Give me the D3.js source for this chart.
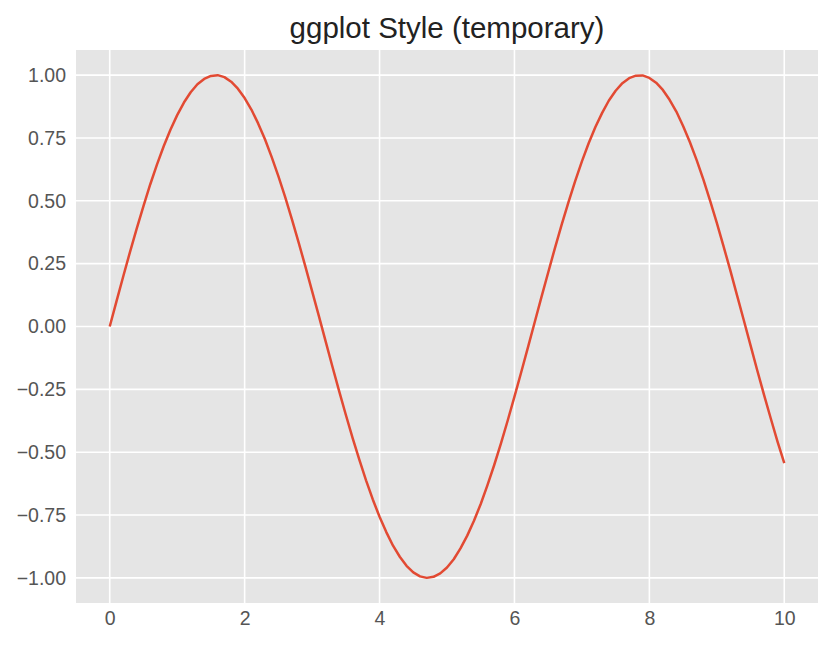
<!DOCTYPE html>
<html>
<head>
<meta charset="utf-8">
<script src="https://cdn.jsdelivr.net/npm/d3@7"></script>
<style>
  html, body { margin: 0; padding: 0; background: #ffffff; }
  svg { display: block; font-family: "Liberation Sans", Arial, sans-serif; }
</style>
</head>
<body>
<svg id="chart" width="834" height="645"></svg>
<script>
// ---- data ----
const title = "ggplot Style (temporary)";
const xValues = [
  0.0, 0.1, 0.2, 0.3, 0.4, 0.5, 0.6, 0.7, 0.8, 0.9,
  1.0, 1.1, 1.2, 1.3, 1.4, 1.5, 1.6, 1.7, 1.8, 1.9,
  2.0, 2.1, 2.2, 2.3, 2.4, 2.5, 2.6, 2.7, 2.8, 2.9,
  3.0, 3.1, 3.2, 3.3, 3.4, 3.5, 3.6, 3.7, 3.8, 3.9,
  4.0, 4.1, 4.2, 4.3, 4.4, 4.5, 4.6, 4.7, 4.8, 4.9,
  5.0, 5.1, 5.2, 5.3, 5.4, 5.5, 5.6, 5.7, 5.8, 5.9,
  6.0, 6.1, 6.2, 6.3, 6.4, 6.5, 6.6, 6.7, 6.8, 6.9,
  7.0, 7.1, 7.2, 7.3, 7.4, 7.5, 7.6, 7.7, 7.8, 7.9,
  8.0, 8.1, 8.2, 8.3, 8.4, 8.5, 8.6, 8.7, 8.8, 8.9,
  9.0, 9.1, 9.2, 9.3, 9.4, 9.5, 9.6, 9.7, 9.8, 9.9,
  10.0
];
const yValues = [
  0.000, 0.100, 0.199, 0.296, 0.389, 0.479, 0.565, 0.644, 0.717, 0.783,
  0.841, 0.891, 0.932, 0.964, 0.985, 0.997, 1.000, 0.992, 0.974, 0.946,
  0.909, 0.863, 0.808, 0.746, 0.675, 0.598, 0.516, 0.427, 0.335, 0.239,
  0.141, 0.042, -0.058, -0.158, -0.256, -0.351, -0.443, -0.530, -0.612, -0.688,
  -0.757, -0.818, -0.872, -0.916, -0.952, -0.978, -0.994, -1.000, -0.996, -0.982,
  -0.959, -0.926, -0.883, -0.832, -0.773, -0.706, -0.631, -0.551, -0.465, -0.374,
  -0.279, -0.182, -0.083, 0.017, 0.117, 0.215, 0.312, 0.405, 0.494, 0.578,
  0.657, 0.729, 0.794, 0.850, 0.899, 0.938, 0.968, 0.988, 0.998, 0.999,
  0.989, 0.970, 0.941, 0.902, 0.855, 0.798, 0.734, 0.663, 0.585, 0.501,
  0.412, 0.319, 0.223, 0.124, 0.025, -0.075, -0.175, -0.272, -0.366, -0.458,
  -0.544
];
const xTicks = [0, 2, 4, 6, 8, 10];
const yTicks = [-1.00, -0.75, -0.50, -0.25, 0.00, 0.25, 0.50, 0.75, 1.00];
const xDomain = [-0.5, 10.5];
const yDomain = [-1.1, 1.1];

// ---- layout ----
const plot = { left: 76, top: 50, right: 818, bottom: 603 };
const svg = d3.select("#chart");

const x = d3.scaleLinear().domain(xDomain).range([plot.left, plot.right]);
const y = d3.scaleLinear().domain(yDomain).range([plot.bottom, plot.top]);

// background
svg.append("rect")
  .attr("x", plot.left).attr("y", plot.top)
  .attr("width", plot.right - plot.left)
  .attr("height", plot.bottom - plot.top)
  .attr("fill", "#E5E5E5");

// grid lines
const grid = svg.append("g");
grid.selectAll("line.gx").data(xTicks).join("line")
  .attr("x1", d => x(d)).attr("x2", d => x(d))
  .attr("y1", plot.top).attr("y2", plot.bottom)
  .attr("stroke", "#ffffff").attr("stroke-width", 1.6);
grid.selectAll("line.gy").data(yTicks).join("line")
  .attr("x1", plot.left).attr("x2", plot.right)
  .attr("y1", d => y(d)).attr("y2", d => y(d))
  .attr("stroke", "#ffffff").attr("stroke-width", 1.6);

// axes (no tick marks visible, labels only)
const fmt = d => (d < 0 ? "\u2212" : "") + Math.abs(d).toFixed(2);
const xAxis = d3.axisBottom(x).tickValues(xTicks).tickSize(0).tickPadding(8).tickFormat(d3.format("d"));
const yAxis = d3.axisLeft(y).tickValues(yTicks).tickSize(0).tickPadding(10).tickFormat(fmt);

const gx = svg.append("g").attr("transform", `translate(0,${plot.bottom})`).call(xAxis);
const gy = svg.append("g").attr("transform", `translate(${plot.left},0)`).call(yAxis);
[gx, gy].forEach(g => {
  g.select(".domain").remove();
  g.selectAll("text")
    .attr("fill", "#555555")
    .style("font-size", "19.5px")
    .style("font-family", "'Liberation Sans', Arial, sans-serif");
});

// line
const line = d3.line()
  .x((d, i) => x(xValues[i]))
  .y(d => y(d));
svg.append("path")
  .datum(yValues)
  .attr("d", line)
  .attr("fill", "none")
  .attr("stroke", "#E24A33")
  .attr("stroke-width", 2.5)
  .attr("stroke-linejoin", "round")
  .attr("stroke-linecap", "butt");

// title
svg.append("text")
  .attr("x", (plot.left + plot.right) / 2)
  .attr("y", 38)
  .attr("text-anchor", "middle")
  .attr("fill", "#222222")
  .style("font-size", "29.5px")
  .text(title);
</script>
</body>
</html>
